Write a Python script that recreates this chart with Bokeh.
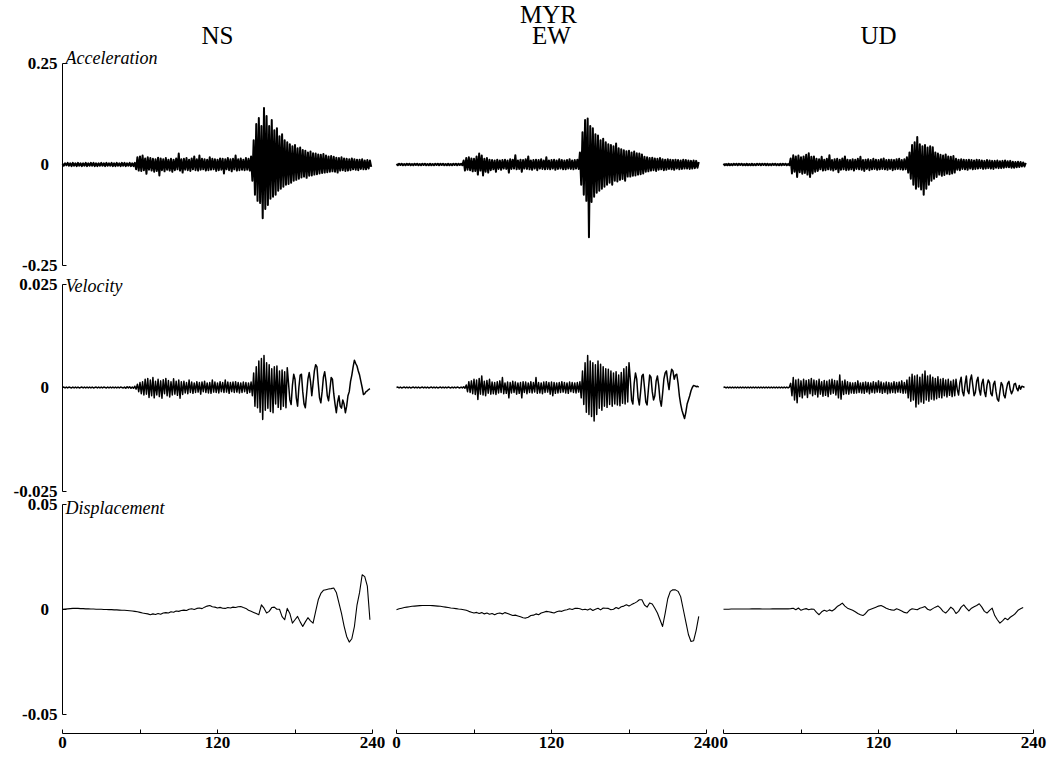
import numpy as np
from bokeh.plotting import figure
from bokeh.layouts import row
from bokeh.models import Range1d, FixedTicker, Label, CustomJSTickFormatter, LinearAxis
from bokeh.embed import file_html
from bokeh.resources import INLINE

STATION = "MYR"
COMPONENTS = ["NS", "EW", "UD"]
QUANTITIES = ["Acceleration", "Velocity", "Displacement"]
Y_LIMITS = [0.25, 0.025, 0.05]
X_TICKS = [0, 120, 240]
X_MINOR_TICKS = [60, 180]

# ---- acceleration, sampled every 1 s, unit 0.001 ----
ACC_DT, ACC_UNIT = 1.0, 1e-3
ACC_NS = [
    2,-3,3,-2,4,-3,3,-4,4,-3, 3,-4,4,-3,3,-4,3,-3,4,-4, 3,-3,4,-3,4,-4,3,-4,3,-3,
    4,-3,3,-4,4,-3,3,-3,4,-4, 3,-4,4,-3,3,-4,4,-3,4,-4, 3,-3,4,-4,3,-4,4,-12,18,-15,
    20,-16,22,-14,15,-23,18,-13,16,-15, 14,-18,13,-16,17,-27,15,-14,13,-17,
    16,-13,12,-15,14,-18,12,-14,15,-12, 27,-15,13,-20,14,-13,16,-14,12,-16,
    15,-12,20,-14,13,-15,22,-13,14,-12, 13,-15,12,-14,18,-13,14,-12,13,-16,
    12,-14,15,-13,14,-22,13,-12,16,-14, 13,-17,14,-12,22,-15,13,-14,15,-13,
    12,-14,16,-13,14,-15,20,-40,60,-75, 100,-90,115,-95,95,-133,140,-110,120,-100,
    95,-85,110,-80,85,-75,90,-65,70,-60, 75,-55,60,-50,55,-48,50,-45,45,-40,
    48,-38,40,-35,42,-32,36,-30,34,-33, 30,-28,32,-27,28,-25,27,-24,25,-22,
    24,-21,26,-20,22,-19,20,-18,21,-17, 19,-18,17,-20,16,-15,18,-14,15,-16,
    14,-15,13,-14,15,-12,13,-13,12,-14, 12,-11,13,-12,10,-12,11,-10,10,-6]
ACC_EW = [
    1,-2,2,-1,2,-2,1,-2,2,-1, 2,-2,1,-2,2,-1,2,-2,1,-2, 2,-1,2,-2,1,-2,2,-2,1,-2,
    2,-1,2,-2,2,-1,2,-2,1,-2, 2,-2,1,-2,2,-1,2,-2,2,-1, 2,-2,10,-15,16,-13,18,-14,15,-17,
    14,-16,20,-25,27,-15,22,-27,14,-18, 16,-20,12,-14,11,-12,10,-18,12,-11,
    10,-13,11,-10,12,-11,10,-20,13,-11, 12,-10,23,-12,10,-11,12,-18,11,-10,
    13,-11,20,-12,10,-13,11,-10,12,-14, 11,-10,13,-11,10,-12,18,-11,10,-12,
    11,-10,12,-13,10,-11,13,-10,11,-12, 10,-12,11,-10,13,-11,10,-12,11,-10,
    12,-11,30,-50,80,-75,110,-90,114,-180, 95,-93,90,-80,75,-70,72,-65,60,-60,
    64,-55,55,-50,50,-45,48,-50,45,-40, 52,-42,40,-38,38,-36,35,-40,33,-30,
    34,-30,30,-28,32,-27,28,-25,27,-24, 25,-22,19,-18,18,-17,16,-15,17,-14,
    15,-16,14,-13,16,-12,13,-14,12,-13, 13,-11,12,-12,11,-13,12,-10,11,-12,
    10,-11,12,-10,11,-10,10,-11,9,-10, 10,-9,9,-8,6]
ACC_UD = [
    2,-2,1,-2,2,-2,1,-2,2,-1, 2,-2,2,-1,2,-2,1,-2,2,-2, 1,-2,2,-2,1,-2,2,-1,2,-2,
    2,-1,2,-2,2,-2,1,-2,2,-1, 2,-2,1,-2,2,-2,2,-1,2,-2, 1,-2,15,-22,23,-18,20,-31,22,-19,
    18,-23,20,-21,24,-25,28,-31,19,-22, 20,-18,14,-16,13,-12,19,-15,12,-14,
    14,-12,23,-13,11,-15,13,-12,14,-19, 12,-13,15,-12,20,-14,12,-13,11,-12,
    13,-15,12,-11,14,-12,19,-13,11,-16, 12,-11,13,-14,11,-12,14,-11,12,-13,
    11,-12,13,-11,15,-12,11,-13,12,-11, 12,-14,11,-12,13,-11,14,-12,11,-13,
    13,-12,18,-20,30,-35,48,-50,55,-60, 68,-55,50,-62,45,-75,48,-60,42,-50,
    45,-40,43,-35,30,-31,27,-25,24,-28, 22,-26,25,-23,20,-24,19,-22,21,-20,
    14,-13,12,-14,13,-11,12,-12,11,-13, 12,-10,11,-12,10,-11,12,-10,11,-9,
    10,-11,9,-10,11,-9,10,-10,9,-11, 9,-8,10,-9,8,-9,9,-8,10,-7,
    8,-7,9,-8,7,-8,6,-7,7,-6, 6,-5,5,-5,4]

# ---- velocity, sampled every 1 s, unit 0.0001 ----
VEL_DT, VEL_UNIT = 1.0, 1e-4
VEL_NS = [
    0,1,-1,1,-1,1,0,-1,1,-1, 1,-1,1,-1,0,1,-1,1,-1,1, -1,1,-1,1,-1,0,1,-1,1,-1,
    1,-1,1,0,-1,1,-1,1,-1,1, -1,1,-1,1,-1,1,0,-1,1,-2, 2,-1,2,-2,1,-2,3,-4,8,-10,
    12,-15,14,-18,20,-16,22,-24,18,-20, 24,-25,15,-18,20,-22,16,-26,19,-15,
    22,-20,17,-23,14,-18,21,-16,15,-19, 18,-26,14,-17,15,-13,12,-15,18,-12,
    13,-14,11,-12,14,-11,12,-16,13,-10, 15,-12,11,-13,12,-14,18,-11,13,-12,
    11,-13,14,-10,12,-12,18,-11,13,-14, 12,-10,13,-12,14,-11,12,-13,11,-12,
    13,-10,12,-14,11,-12,13,-20,35,-45, 50,-49,64,-60,70,-77,77,-55,60,-50,
    55,-58,45,-61,50,-40,52,-48,40,-53, 42,-45,38,-49,48,10,-30,-41,5,32,
    20,-25,-45,0,30,32,-10,-40,-49,-15, 20,36,15,-20,10,40,55,50,10,-25,
    -37,-10,25,38,15,-20,-32,-5,24,20, -15,-40,-61,-35,-20,-45,-50,-30,-40,-61,
    -45,-20,-10,15,30,50,66,58,52,40, 30,15,0,-17,-15,-10,-8,-5,-3]
VEL_EW = [
    0,1,-1,1,-1,0,1,-1,1,-1, 1,-1,0,1,-1,1,-1,1,-1,0, 1,-1,1,-1,1,-1,0,1,-1,1,
    -1,1,-1,0,1,-1,1,-1,1,-1, 1,0,-1,1,-1,1,-1,1,0,-1, 1,-1,2,-2,6,-10,14,-12,16,-15,
    20,-17,18,-29,22,-16,28,-18,15,-20, 17,-14,20,-16,13,-15,12,-17,14,-13,
    16,-12,24,-15,11,-14,13,-25,12,-13, 15,-12,13,-16,11,-14,12,-25,14,-12,
    13,-15,11,-12,14,-13,12,-11,24,-14, 12,-13,11,-15,13,-12,14,-11,12,-16,
    13,-20,12,-14,11,-13,12,-12,14,-11, 12,-13,11,-14,13,-10,12,-12,11,-13,
    12,-11,14,-25,40,-41,60,-60,77,-65, 64,-70,60,-81,55,-65,64,-50,56,-55,
    50,-45,45,-48,44,-41,40,-45,35,-40, 38,-42,30,-44,36,-38,45,-40,50,-35,
    60,20,-30,-40,10,35,20,-25,-42,-10, 28,32,0,-35,-42,-5,30,25,-10,-30,
    -20,15,28,5,-30,-45,-15,20,35,40, 15,-5,25,44,40,20,30,32,10,-20,
    -40,-55,-65,-75,-60,-40,-30,-20,-8,0, 5,4,2,3,1]
VEL_UD = [
    0,1,-1,1,-1,1,-1,1,-1,1, -1,1,-1,1,-1,1,-1,1,-1,1, -1,1,-1,1,-1,1,-1,1,-1,1,
    -1,1,-1,1,-1,1,-1,1,-1,1, -1,1,-1,1,-1,1,-1,1,-1,1, -1,1,10,-20,24,-30,18,-37,20,-22,
    16,-25,20,-18,17,-24,19,-15,22,-20, 18,-17,16,-23,20,-16,14,-21,17,-19,
    15,-22,18,-16,20,-14,17,-18,16,-25, 30,-28,15,-17,18,-15,14,-16,12,-13,
    11,-14,12,-13,16,-12,11,-13,12,-14, 13,-11,12,-15,11,-12,14,-13,12,-11,
    16,-12,13,-14,11,-12,13,-15,12,-13, 11,-12,14,-13,12,-11,13,-12,16,-14,
    12,-13,18,-25,25,-33,32,-30,28,-47, 30,-40,25,-35,32,-38,40,-30,28,-33,
    30,-28,25,-30,22,-27,26,-24,20,-25, 22,-20,18,-23,20,-19,15,-22,18,-20,
    20,-5,-18,12,25,-10,-20,8,28,-8, -15,18,30,5,-20,-12,15,25,-5,-18,
    10,20,-10,-22,5,18,12,-15,-20,8, 15,-10,-28,-33,-10,12,6,-18,-25,-5,
    10,15,-5,-15,-8,8,10,-2,-8,5, -4,3,2,0]

# ---- displacement, sampled every 2 s, unit 0.0001 ----
DISP_DT, DISP_UNIT = 2.0, 1e-4
DISP_NS = [
    0,1,2,3,4,4,4,3,3,2, 2,1,1,0,0,0,-1,-1,-2,-2, -3,-3,-4,-5,-5,-6,-7,-8,-10,-12,
    -15,-18,-20,-22,-26,-22,-25,-20,-24,-18, -16,-18,-12,-14,-8,-10,-6,-4,-6,0,
    2,-1,4,6,3,10,15,18,12,10, 6,9,5,4,8,6,10,8,12,13,
    8,4,-5,-10,-15,-20,-26,21,5,-18, -10,8,10,0,0,-35,-50,4,-20,-66,
    -50,-34,-60,-82,-60,-40,-55,-66,-10,45, 75,90,93,96,98,101,80,30,-20,-80,
    -129,-156,-140,-82,20,80,164,155,110,-50]
DISP_EW = [
    -2,2,5,8,10,12,14,15,16,17, 18,18,18,18,17,16,15,14,12,10, 8,6,5,3,1,0,-2,-5,-10,-14,
    -18,-15,-20,-16,-22,-18,-24,-20,-26,-20, -18,-22,-16,-20,-25,-30,-28,-32,-36,-40,
    -42,-38,-30,-28,-22,-26,-18,-14,-10,-12, -15,-18,-12,-8,-10,-5,-2,2,-1,4,
    5,2,-2,0,-4,2,-6,0,5,-3, 6,5,4,-2,0,8,3,12,15,21,
    15,22,28,35,45,45,20,10,30,25, 5,-18,-50,-82,-20,50,85,93,92,85,
    60,0,-60,-120,-153,-150,-100,-34]
DISP_UD = [
    0,0,0,1,1,1,1,1,1,1, 1,2,2,2,2,1,1,1,1,2, 2,2,2,2,2,2,3,5,-2,6,
    -5,0,3,-2,1,0,-15,-26,-12,-5, -10,-3,-8,0,13,20,29,15,5,0,
    -5,-12,-20,-26,-30,-20,-5,0,5,10, 15,18,12,5,0,-3,-5,2,-2,-8,
    -15,-18,-5,2,0,-2,5,8,13,0, -5,3,10,16,5,-10,-18,-5,10,0,
    -20,-10,10,21,5,-8,5,12,18,26, 10,-10,-18,-5,5,-30,-50,-66,-55,-42,
    -50,-38,-30,-20,-5,2,8]

SERIES = [
    [(ACC_NS, ACC_DT, ACC_UNIT), (ACC_EW, ACC_DT, ACC_UNIT), (ACC_UD, ACC_DT, ACC_UNIT)],
    [(VEL_NS, VEL_DT, VEL_UNIT), (VEL_EW, VEL_DT, VEL_UNIT), (VEL_UD, VEL_DT, VEL_UNIT)],
    [(DISP_NS, DISP_DT, DISP_UNIT), (DISP_EW, DISP_DT, DISP_UNIT), (DISP_UD, DISP_DT, DISP_UNIT)],
]

# ---- layout (pixels) ----
H = 756
FIG_X = [(0, 385), (385, 719), (719, 1049)]      # page columns of each column figure
X0_PX = [62, 396, 723]                            # page column of t = 0
X_SPAN_PX = 310                                   # pixels for 240 s
TICK_PX = [(63, 265), (283.5, 490.5), (503.5, 714)]   # page rows of +lim / -lim ticks
XAXIS_PX = 733
RANGE_NAMES = ["default", "vel", "disp"]
LINE_W = [2.0, 1.5, 1.1]
ROW_LABEL_YOFF = [5.5, -1.5, -4]
TITLE_YOFF = 28
STATION_YOFF = 49
FONT = "Liberation Serif"


def band_range(lim, top_px, bot_px):
    s = 2 * lim / (bot_px - top_px)
    return Range1d(-lim - (H - bot_px) * s, lim + top_px * s)


def value_at(lim, top_px, bot_px, px):
    s = 2 * lim / (bot_px - top_px)
    return lim - (px - top_px) * s


def time_range(c):
    s = 240.0 / X_SPAN_PX
    left, right = FIG_X[c]
    return Range1d(-(X0_PX[c] - left) * s, 240 + (right - X0_PX[c] - X_SPAN_PX) * s)


y_fmt = "return tick == 0 ? '0\u2007' : String(tick);"
x_fmt = "return String(tick);"

figs = []
for c in range(3):
    ranges = [band_range(Y_LIMITS[r], *TICK_PX[r]) for r in range(3)]
    p = figure(width=FIG_X[c][1] - FIG_X[c][0], height=H,
               x_range=time_range(c), y_range=ranges[0],
               output_backend="svg", toolbar_location=None,
               x_axis_location=None, y_axis_location=None,
               min_border_left=0, min_border_right=0,
               min_border_top=0, min_border_bottom=0)
    p.extra_y_ranges = {"vel": ranges[1], "disp": ranges[2]}
    p.outline_line_color = None
    p.grid.visible = False
    p.background_fill_color = "white"
    p.border_fill_color = "white"

    for r in range(3):
        vals, dt, unit = SERIES[r][c]
        y = np.asarray(vals, dtype=float) * unit
        t = np.arange(len(y)) * dt
        p.line(t, y, line_color="black", line_width=LINE_W[r],
               line_join="round", y_range_name=RANGE_NAMES[r])

        if c == 0:
            lim = Y_LIMITS[r]
            ax = LinearAxis(y_range_name=RANGE_NAMES[r], fixed_location=0,
                            ticker=FixedTicker(ticks=[-lim, 0, lim]),
                            formatter=CustomJSTickFormatter(code=y_fmt),
                            bounds=(-lim, lim))
            ax.axis_line_color = "black"
            ax.major_tick_line_color = "black"
            ax.major_tick_in = 4
            ax.major_tick_out = 0
            ax.minor_tick_line_color = None
            ax.major_label_text_font = FONT
            ax.major_label_text_font_style = "bold"
            ax.major_label_text_font_size = "17px"
            ax.major_label_text_color = "black"
            ax.major_label_standoff = 5
            p.add_layout(ax, "left")
            p.add_layout(Label(x=0, y=lim, x_offset=3, y_offset=ROW_LABEL_YOFF[r],
                               y_range_name=RANGE_NAMES[r],
                               text=QUANTITIES[r], text_font=FONT,
                               text_font_style="italic", text_font_size="18px",
                               text_baseline="middle", text_align="left",
                               text_color="black"))

    xax = LinearAxis(fixed_location=value_at(Y_LIMITS[0], *TICK_PX[0], XAXIS_PX),
                     ticker=FixedTicker(ticks=X_TICKS, minor_ticks=X_MINOR_TICKS),
                     formatter=CustomJSTickFormatter(code=x_fmt), bounds=(0, 240))
    xax.axis_line_color = "black"
    xax.major_tick_line_color = "black"
    xax.minor_tick_line_color = "black"
    xax.major_tick_in = 4
    xax.major_tick_out = 0
    xax.minor_tick_in = 4
    xax.minor_tick_out = 0
    xax.major_label_text_font = FONT
    xax.major_label_text_font_style = "bold"
    xax.major_label_text_font_size = "17px"
    xax.major_label_text_color = "black"
    xax.major_label_standoff = 3
    p.add_layout(xax, "below")

    p.add_layout(Label(x=120, y=Y_LIMITS[0], y_offset=TITLE_YOFF, text=COMPONENTS[c],
                       text_font=FONT, text_font_size="25px",
                       text_align="center", text_baseline="middle",
                       text_color="black"))
    if c == 1:
        p.add_layout(Label(x=120, y=Y_LIMITS[0], x_offset=-3, y_offset=STATION_YOFF,
                           text=STATION, text_font=FONT, text_font_size="25px",
                           text_align="center", text_baseline="middle",
                           text_color="black"))
    figs.append(p)

layout = row(*figs)
open("out.html", "w").write(file_html(layout, INLINE))
